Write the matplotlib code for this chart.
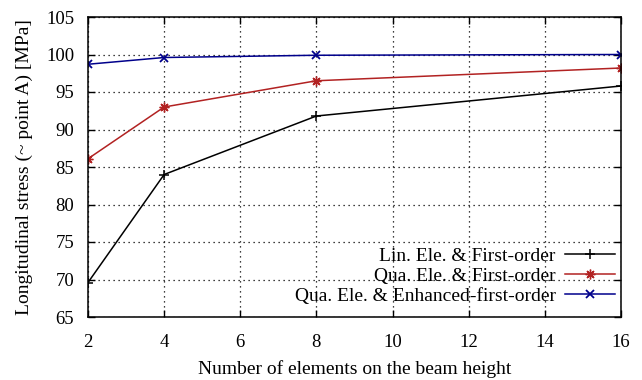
import matplotlib
matplotlib.use("Agg")
import matplotlib.pyplot as plt

plt.rcParams['font.family'] = ['Liberation Serif', 'DejaVu Serif']

# data
n_elems = [2, 4, 8, 16]
lin_first = [69.6, 84.0, 91.8, 95.8]
qua_first = [86.1, 93.0, 96.5, 98.2]
qua_enh = [98.7, 99.6, 99.9, 100.0]

labels = ['Lin. Ele. & First-order',
          'Qua. Ele. & First-order',
          'Qua. Ele. & Enhanced-first-order']
xticks = [2, 4, 6, 8, 10, 12, 14, 16]
yticks = [65, 70, 75, 80, 85, 90, 95, 100, 105]

fig = plt.figure(figsize=(6.42, 3.80), dpi=100)
ax = fig.add_axes([88 / 642, 63 / 380, 533 / 642, 300 / 380])

ax.plot(n_elems, lin_first, color='black', lw=1.1, marker='+', ms=7, mew=1.1, label=labels[0])
ax.plot(n_elems, qua_first, color='#b22222', lw=1.1, marker=(8, 2, 0), ms=7, mew=1.0, label=labels[1])
ax.plot(n_elems, qua_enh, color='#00008b', lw=1.1, marker='x', ms=6, mew=1.3, label=labels[2])

ax.set_xlim(2, 16)
ax.set_ylim(65, 105)
ax.set_xticks(xticks)
ax.set_yticks(yticks)
ax.tick_params(direction='in', length=5, width=1, top=True, right=True, labelsize=13.5)
ax.tick_params(axis='y', pad=10)
ax.tick_params(axis='x', pad=12)
ax.grid(True, color='black', linestyle=(0, (1, 3)), linewidth=0.9)
for s in ax.spines.values():
    s.set_linewidth(1.1)

ax.set_xlabel('Number of elements on the beam height', fontsize=14, labelpad=7)
ax.set_ylabel('Longitudinal stress (~ point A) [MPa]', fontsize=14, labelpad=9)

leg = ax.legend(loc='lower right', bbox_to_anchor=(0.989, 0.04), frameon=False,
                markerfirst=False, fontsize=14, handlelength=2.6, handletextpad=0.45,
                labelspacing=0.13, borderpad=0, borderaxespad=0)

fig.savefig('out.png', dpi=100)
